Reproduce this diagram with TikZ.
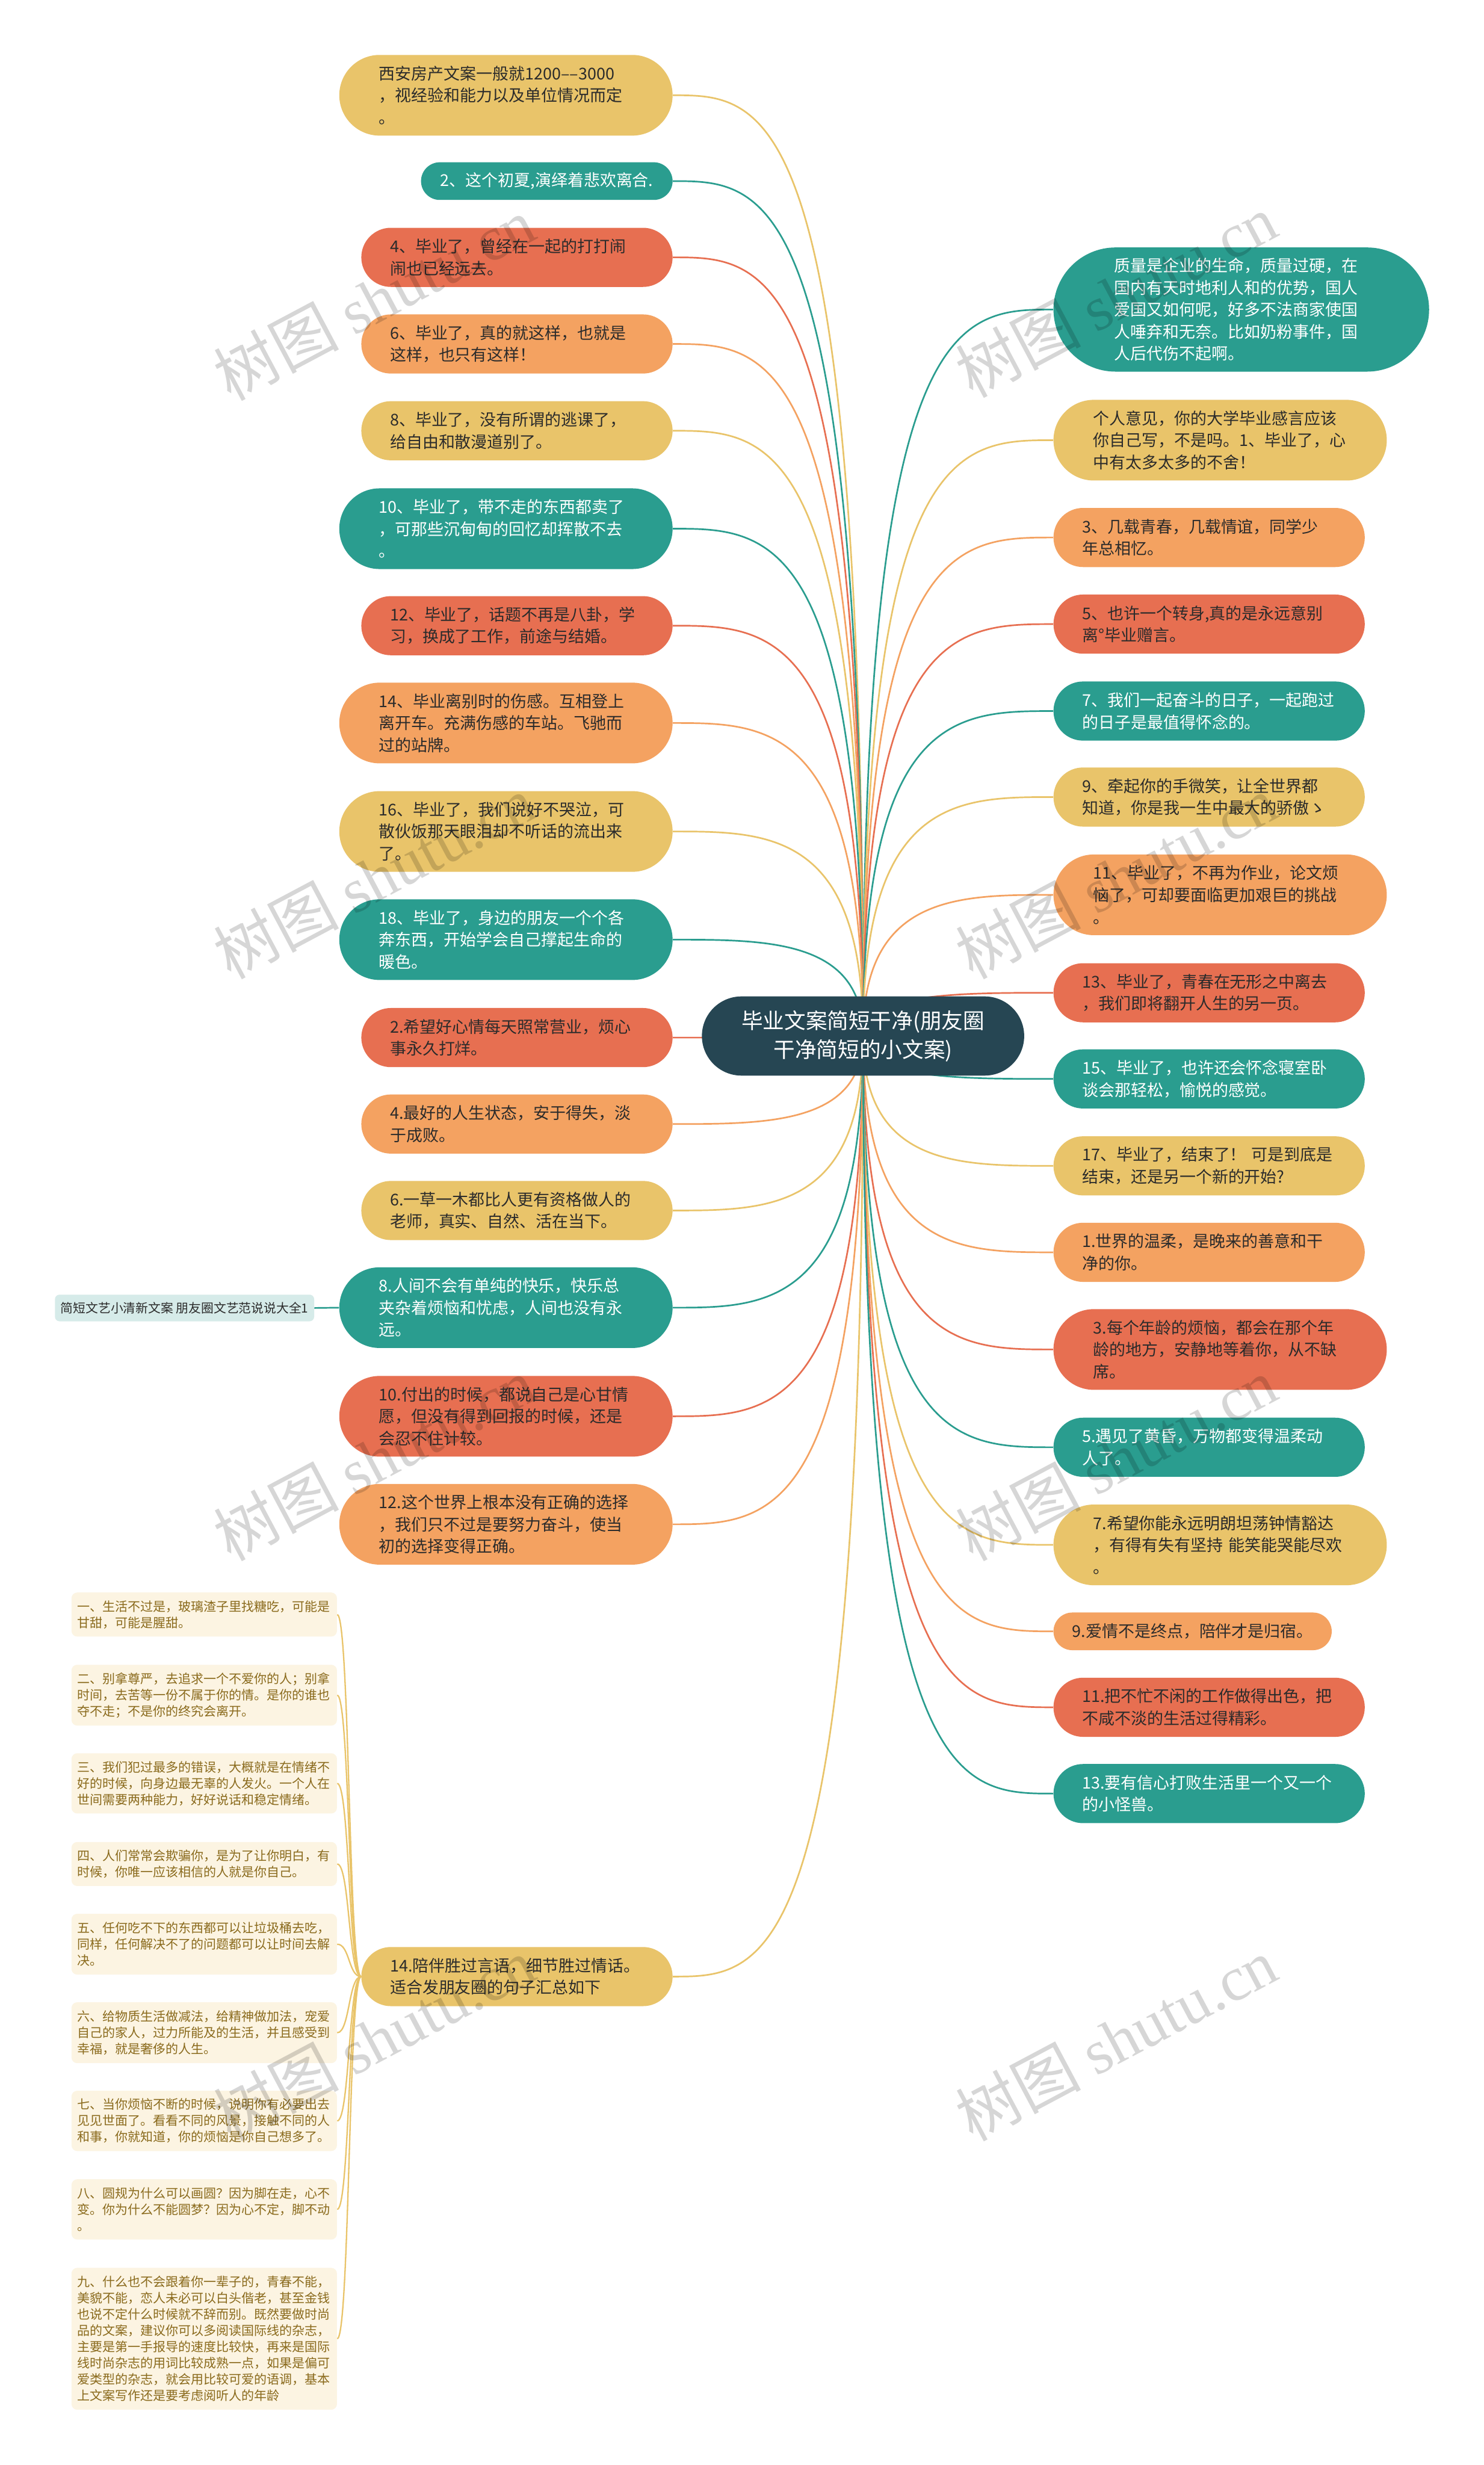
\documentclass[tikz,border=0pt]{standalone}
\usepackage{fontspec}
\setmainfont{Noto Sans CJK SC}
\newfontfamily\wmlatin{Liberation Serif}
\usetikzlibrary{shapes.misc,calc}
\pgfdeclarelayer{background}
\pgfdeclarelayer{foreground}
\pgfsetlayers{background,main,foreground}
\definecolor{cteal}{HTML}{2A9D8F}
\definecolor{cyel}{HTML}{E9C46A}
\definecolor{cora}{HTML}{F4A261}
\definecolor{cred}{HTML}{E76F51}
\definecolor{cdark}{HTML}{264653}
\definecolor{ctext}{HTML}{2B2B2B}
\definecolor{ccream}{HTML}{FCF4E2}
\definecolor{cbrown}{HTML}{8A6A1C}
\definecolor{cpale}{HTML}{D6EBE9}
\newcommand\nodefont{\fontsize{14pt}{19pt}\selectfont}
\newcommand\smallfnt{\fontsize{10.9pt}{14pt}\selectfont}
\newcommand\linkL[2]{\draw[ln,#1] (C.center) .. controls (C.center |- #2.east) and ($(C.center |- #2.east)!0.5!(#2.east)$) .. (#2.east);}
\newcommand\linkR[2]{\draw[ln,#1] (C.center) .. controls (C.center |- #2.west) and ($(C.center |- #2.west)!0.5!(#2.west)$) .. (#2.west);}
\newcommand\linkS[1]{\draw[sln] (L17.west) .. controls ($(L17.west)+(-8,0)$) and ($(#1.east)+(8,0)$) .. (#1.east);}
\tikzset{
  x=1.356pt, y=-1.356pt,
  bub/.style={rounded rectangle, inner xsep=0pt, inner ysep=0pt, font=\nodefont, align=left, text=ctext},
  multi/.style={bub, text width=219pt},
  hA/.style={minimum height=32.5pt},
  hB/.style={minimum height=51pt, minimum width=268.5pt},
  hC/.style={minimum height=69.6pt, minimum width=287.5pt},
  hE/.style={minimum height=107.1pt, minimum width=324pt},
  lt/.style={anchor=east},
  rt/.style={anchor=west},
  ntl/.style={fill=cteal, text=white},
  nyl/.style={fill=cyel},
  nor/.style={fill=cora},
  nrd/.style={fill=cred},
  ln/.style={line width=1.4pt},
  sln/.style={line width=1.2pt, cyel},
  sbox/.style={rectangle, rounded corners=5pt, fill=ccream, text=cbrown, font=\smallfnt, align=left, text width=219pt, inner xsep=5pt, inner ysep=0pt, anchor=east},
  wm/.style={text=black, text opacity=0.16, font=\fontsize{54pt}{54pt}\selectfont, inner sep=0pt, rotate=28},
}
\begin{document}
\begin{tikzpicture}
\useasboundingbox (0,0) rectangle (944,1568);
\begin{pgfonlayer}{background}
\fill[white] (0,0) rectangle (944,1568);
\end{pgfonlayer}

% centre
\node[rounded rectangle, fill=cdark, text=white, align=center, inner xsep=4pt, inner ysep=0pt,
      minimum height=68.3pt, minimum width=286pt, font=\fontsize{18.5pt}{25pt}\selectfont] (C) at (549,659)
  {毕业文案简短干净(朋友圈\\干净简短的小文案)};

% left column
\node[multi,hC,nyl,lt] (L1) at (428,60.6) {西安房产文案一般就1200––3000\\，视经验和能力以及单位情况而定\\。};
\node[bub,hA,ntl,lt,minimum width=217pt] (L2) at (428,115.2) {2、这个初夏,演绎着悲欢离合.};
\node[multi,hB,nrd,lt] (L3) at (428,163.7) {4、毕业了，曾经在一起的打打闹\\闹也已经远去。};
\node[multi,hB,nor,lt] (L4) at (428,218.8) {6、毕业了，真的就这样，也就是\\这样，也只有这样！};
\node[multi,hB,nyl,lt] (L5) at (428,274) {8、毕业了，没有所谓的逃课了，\\给自由和散漫道别了。};
\node[multi,hC,ntl,lt] (L6) at (428,336.3) {10、毕业了，带不走的东西都卖了\\，可那些沉甸甸的回忆却挥散不去\\。};
\node[multi,hB,nrd,lt] (L7) at (428,398) {12、毕业了，话题不再是八卦，学\\习，换成了工作，前途与结婚。};
\node[multi,hC,nor,lt] (L8) at (428,459.9) {14、毕业离别时的伤感。互相登上\\离开车。充满伤感的车站。飞驰而\\过的站牌。};
\node[multi,hC,nyl,lt] (L9) at (428,528.9) {16、毕业了，我们说好不哭泣，可\\散伙饭那天眼泪却不听话的流出来\\了。};
\node[multi,hC,ntl,lt] (L10) at (428,597.7) {18、毕业了，身边的朋友一个个各\\奔东西，开始学会自己撑起生命的\\暖色。};
\node[multi,hB,nrd,lt] (L11) at (428,660) {2.希望好心情每天照常营业，烦心\\事永久打烊。};
\node[multi,hB,nor,lt] (L12) at (428,715) {4.最好的人生状态，安于得失，淡\\于成败。};
\node[multi,hB,nyl,lt] (L13) at (428,770) {6.一草一木都比人更有资格做人的\\老师，真实、自然、活在当下。};
\node[multi,hC,ntl,lt] (L14) at (428,831.8) {8.人间不会有单纯的快乐，快乐总\\夹杂着烦恼和忧虑，人间也没有永\\远。};
\node[multi,hC,nrd,lt] (L15) at (428,900.9) {10.付出的时候，都说自己是心甘情\\愿，但没有得到回报的时候，还是\\会忍不住计较。};
\node[multi,hC,nor,lt] (L16) at (428,969.6) {12.这个世界上根本没有正确的选择\\，我们只不过是要努力奋斗，使当\\初的选择变得正确。};
\node[multi,hB,nyl,lt] (L17) at (428,1257.3) {14.陪伴胜过言语，细节胜过情话。\\适合发朋友圈的句子汇总如下};

% right column
\node[multi,hE,ntl,rt] (R1) at (670,196.9) {质量是企业的生命，质量过硬，在\\国内有天时地利人和的优势，国人\\爱国又如何呢，好多不法商家使国\\人唾弃和无奈。比如奶粉事件，国\\人后代伤不起啊。};
\node[multi,hC,nyl,rt] (R2) at (670,280) {个人意见，你的大学毕业感言应该\\你自己写，不是吗。1、毕业了，心\\中有太多太多的不舍！};
\node[multi,hB,nor,rt] (R3) at (670,341.9) {3、几载青春，几载情谊，同学少\\年总相忆。};
\node[multi,hB,nrd,rt] (R4) at (670,397) {5、也许一个转身,真的是永远意别\\离°毕业赠言。};
\node[multi,hB,ntl,rt] (R5) at (670,452.3) {7、我们一起奋斗的日子，一起跑过\\的日子是最值得怀念的。};
\node[multi,hB,nyl,rt] (R6) at (670,507) {9、牵起你的手微笑，让全世界都\\知道，你是我一生中最大的骄傲ゝ};
\node[multi,hC,nor,rt] (R7) at (670,569.2) {11、毕业了，不再为作业，论文烦\\恼了，可却要面临更加艰巨的挑战\\。};
\node[multi,hB,nrd,rt] (R8) at (670,631.5) {13、毕业了，青春在无形之中离去\\，我们即将翻开人生的另一页。};
\node[multi,hB,ntl,rt] (R9) at (670,686.3) {15、毕业了，也许还会怀念寝室卧\\谈会那轻松，愉悦的感觉。};
\node[multi,hB,nyl,rt] (R10) at (670,741.6) {17、毕业了，结束了！ 可是到底是\\结束，还是另一个新的开始?};
\node[multi,hB,nor,rt] (R11) at (670,796.6) {1.世界的温柔，是晚来的善意和干\\净的你。};
\node[multi,hC,nrd,rt] (R12) at (670,858.4) {3.每个年龄的烦恼，都会在那个年\\龄的地方，安静地等着你，从不缺\\席。};
\node[multi,hB,ntl,rt] (R13) at (670,920.6) {5.遇见了黄昏，万物都变得温柔动\\人了。};
\node[multi,hC,nyl,rt] (R14) at (670,982.7) {7.希望你能永远明朗坦荡钟情豁达\\，有得有失有坚持 能笑能哭能尽欢\\。};
\node[bub,hA,nor,rt,minimum width=240pt] (R15) at (670,1037.7) {9.爱情不是终点，陪伴才是归宿。};
\node[multi,hB,nrd,rt] (R16) at (670,1086) {11.把不忙不闲的工作做得出色，把\\不咸不淡的生活过得精彩。};
\node[multi,hB,ntl,rt] (R17) at (670,1140.9) {13.要有信心打败生活里一个又一个\\的小怪兽。};

% far left node
\node[rectangle, rounded corners=4pt, fill=cpale, text=ctext, inner xsep=5pt, inner ysep=0pt,
      minimum height=23pt, font=\fontsize{10.8pt}{13pt}\selectfont, anchor=east] (FL) at (200,832)
  {简短文艺小清新文案 朋友圈文艺范说说大全1};

% small boxes
\node[sbox, minimum height=38pt] (S1) at (214.5,1027) {一、生活不过是，玻璃渣子里找糖吃，可能是\\甘甜，可能是腥甜。};
\node[sbox, minimum height=52.5pt] (S2) at (214.5,1078.3) {二、别拿尊严，去追求一个不爱你的人；别拿\\时间，去苦等一份不属于你的情。是你的谁也\\夺不走；不是你的终究会离开。};
\node[sbox, minimum height=52pt] (S3) at (214.5,1134.4) {三、我们犯过最多的错误，大概就是在情绪不\\好的时候，向身边最无辜的人发火。一个人在\\世间需要两种能力，好好说话和稳定情绪。};
\node[sbox, minimum height=38pt] (S4) at (214.5,1185.7) {四、人们常常会欺骗你，是为了让你明白，有\\时候，你唯一应该相信的人就是你自己。};
\node[sbox, minimum height=52.5pt] (S5) at (214.5,1236.7) {五、任何吃不下的东西都可以让垃圾桶去吃，\\同样，任何解决不了的问题都可以让时间去解\\决。};
\node[sbox, minimum height=52.5pt] (S6) at (214.5,1293) {六、给物质生活做减法，给精神做加法，宠爱\\自己的家人，过力所能及的生活，并且感受到\\幸福，就是奢侈的人生。};
\node[sbox, minimum height=52pt] (S7) at (214.5,1349.1) {七、当你烦恼不断的时候，说明你有必要出去\\见见世面了。看看不同的风景，接触不同的人\\和事，你就知道，你的烦恼是你自己想多了。};
\node[sbox, minimum height=52pt] (S8) at (214.5,1405.4) {八、圆规为什么可以画圆？因为脚在走，心不\\变。你为什么不能圆梦？因为心不定，脚不动\\。};
\node[sbox, minimum height=122.4pt] (S9) at (214.5,1487.7) {九、什么也不会跟着你一辈子的，青春不能，\\美貌不能，恋人未必可以白头偕老，甚至金钱\\也说不定什么时候就不辞而别。既然要做时尚\\品的文案，建议你可以多阅读国际线的杂志，\\主要是第一手报导的速度比较快，再来是国际\\线时尚杂志的用词比较成熟一点，如果是偏可\\爱类型的杂志，就会用比较可爱的语调，基本\\上文案写作还是要考虑阅听人的年龄};

% connectors
\begin{pgfonlayer}{background}
\linkL{cyel}{L1}
\linkL{cteal}{L2}
\linkL{cred}{L3}
\linkL{cora}{L4}
\linkL{cyel}{L5}
\linkL{cteal}{L6}
\linkL{cred}{L7}
\linkL{cora}{L8}
\linkL{cyel}{L9}
\linkL{cteal}{L10}
\linkL{cred}{L11}
\linkL{cora}{L12}
\linkL{cyel}{L13}
\linkL{cteal}{L14}
\linkL{cred}{L15}
\linkL{cora}{L16}
\linkL{cyel}{L17}
\linkR{cteal}{R1}
\linkR{cyel}{R2}
\linkR{cora}{R3}
\linkR{cred}{R4}
\linkR{cteal}{R5}
\linkR{cyel}{R6}
\linkR{cora}{R7}
\linkR{cred}{R8}
\linkR{cteal}{R9}
\linkR{cyel}{R10}
\linkR{cora}{R11}
\linkR{cred}{R12}
\linkR{cteal}{R13}
\linkR{cyel}{R14}
\linkR{cora}{R15}
\linkR{cred}{R16}
\linkR{cteal}{R17}
\draw[ln,cteal] (L14.west) -- (FL.east);
\linkS{S1}
\linkS{S2}
\linkS{S3}
\linkS{S4}
\linkS{S5}
\linkS{S6}
\linkS{S7}
\linkS{S8}
\linkS{S9}
\end{pgfonlayer}

% watermarks
\begin{pgfonlayer}{foreground}
\node[wm] (W1) at (238,190) {树图 {\wmlatin shutu.cn}};
\node[wm] (W2) at (710,188) {树图 {\wmlatin shutu.cn}};
\node[wm] (W3) at (238,558) {树图 {\wmlatin shutu.cn}};
\node[wm] (W4) at (710,558) {树图 {\wmlatin shutu.cn}};
\node[wm] (W5) at (238,928) {树图 {\wmlatin shutu.cn}};
\node[wm] (W6) at (710,928) {树图 {\wmlatin shutu.cn}};
\node[wm] (W7) at (238,1297) {树图 {\wmlatin shutu.cn}};
\node[wm] (W8) at (710,1297) {树图 {\wmlatin shutu.cn}};
\end{pgfonlayer}
\end{tikzpicture}
\end{document}
